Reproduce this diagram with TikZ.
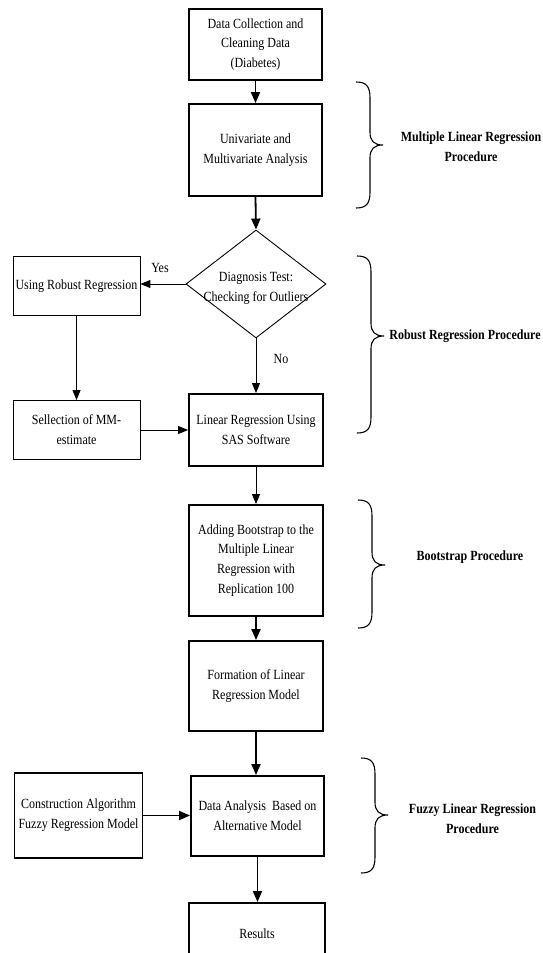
\documentclass[tikz,border=0pt]{standalone}
\usepackage{fontspec}
\setmainfont[FakeStretch=0.857]{Liberation Serif}
\usetikzlibrary{shapes.geometric,arrows.meta}
\newcommand\procbrace[4]{%
  \draw[bracestyle] (#1,#2) .. controls ({#1+10},#2) and ({#1+14},{#2+4}) .. ({#1+14},{#2+16})
    -- ({#1+14},{#3-13}) .. controls ({#1+14},{#3-4}) and ({#1+18},#3) .. ({#1+27},#3)
    .. controls ({#1+18},#3) and ({#1+14},{#3+4}) .. ({#1+14},{#3+13})
    -- ({#1+14},{#4-16}) .. controls ({#1+14},{#4-4}) and ({#1+10},#4) .. (#1,#4);}
\begin{document}
\begin{tikzpicture}[x=1pt,y=-1pt,
  txt/.style={font=\fontsize{14}{19.8}\selectfont, align=center},
  mainbox/.style={txt, draw, line width=1.9pt, inner sep=0pt},
  thinbox/.style={txt, draw, line width=0.9pt, inner sep=0pt},
  thickarrow/.style={line width=1.8pt, -{Triangle[length=11pt,width=9pt]}},
  thinarrow/.style={line width=1pt, -{Triangle[length=10pt,width=8pt]}},
  bracestyle/.style={line width=1.1pt},
  proclabel/.style={font=\bfseries\fontsize{14}{19.8}\selectfont, align=center}]
\useasboundingbox (0,0) rectangle (543,953);
\clip (0,0) rectangle (543,953);
\fill[white] (0,0) rectangle (543,953);

% main column
\node[mainbox, minimum width=133pt, minimum height=71pt] (b1) at (255.5,44.5)
  {Data Collection and\\Cleaning Data\\(Diabetes)};
\node[mainbox, minimum width=133pt, minimum height=92pt] (b2) at (255.5,150)
  {Univariate and\\Multivariate Analysis};
\node[draw, diamond, line width=0.9pt, inner sep=0pt, minimum width=140pt, minimum height=108pt] (dia) at (256,284) {};
\node[txt] (diatext) at (256,288) {Diagnosis Test:\\Checking for Outliers};
\node[thinbox, minimum width=127pt, minimum height=59pt] (robust) at (76.5,286)
  {Using Robust Regression};
\node[mainbox, minimum width=134pt, minimum height=72pt] (sas) at (256,430)
  {Linear Regression Using\\SAS Software};
\node[thinbox, minimum width=127pt, minimum height=59pt] (sel) at (76.5,430)
  {Sellection of MM-\\estimate};
\node[mainbox, minimum width=134pt, minimum height=111pt] (boot) at (256,560.5)
  {Adding Bootstrap to the\\Multiple Linear\\Regression with\\Replication 100};
\node[mainbox, minimum width=134pt, minimum height=90pt] (form) at (256,686)
  {Formation of Linear\\Regression Model};
\node[mainbox, minimum width=133pt, minimum height=80pt] (da) at (257.5,816)
  {Data Analysis~ Based on\\Alternative Model};
\node[mainbox, minimum width=128pt, minimum height=85pt] (con) at (78.5,815.5)
  {Construction Algorithm\\Fuzzy Regression Model};
\node[mainbox, minimum width=136pt, minimum height=62pt] (res) at (257,934)
  {Results};

% connectors
\draw[thickarrow] (b1.south) -- (b2.north);
\draw[thickarrow] (b2.south) -- (dia.north);
\draw[thinarrow] (dia.west) -- (dia.west -| robust.east);
\node[txt] (yes) at (160,268) {Yes};
\draw[thinarrow] (robust.south) -- (sel.north);
\draw[thinarrow] (sel.east) -- (sel.east -| sas.west);
\draw[thinarrow] (dia.south) -- (dia.south |- sas.north);
\node[txt] (no) at (281,359) {No};
\draw[thinarrow] (sas.south) -- (boot.north);
\draw[thickarrow] (boot.south) -- (form.north);
\draw[thickarrow] (form.south) -- (form.south |- da.north);
\draw[thickarrow] (con.east) -- (con.east -| da.west);
\draw[thickarrow] (da.south) -- (da.south |- res.north);

% braces and procedure labels
\procbrace{356}{82}{145}{208}
\procbrace{357}{256}{336}{433}
\procbrace{358}{500}{565}{628}
\procbrace{361}{758}{815}{873}
\node[proclabel] (l1) at (471,147) {Multiple Linear Regression\\Procedure};
\node[proclabel] (l2) at (465,336) {Robust Regression Procedure};
\node[proclabel] (l3) at (470,557) {Bootstrap Procedure};
\node[proclabel] (l4) at (472.5,819) {Fuzzy Linear Regression\\Procedure};
\end{tikzpicture}
\end{document}
